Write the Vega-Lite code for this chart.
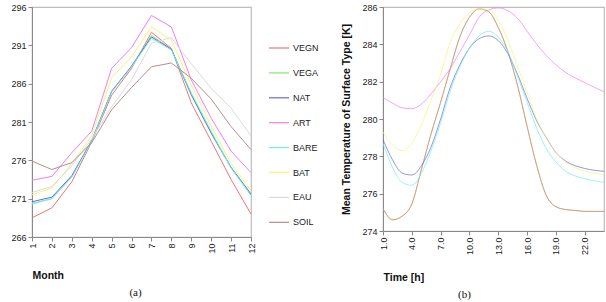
{
  "$schema": "https://vega.github.io/schema/vega-lite/v6.json",
  "autosize": {"type": "pad"},
  "padding": {"left": 10, "top": 2, "right": 3, "bottom": 4},
  "background": "white",
  "config": {
    "font": "Liberation Sans",
    "view": {"stroke": "#bdbdbd", "strokeWidth": 1.2},
    "axis": {
      "grid": false,
      "domainColor": "#8a8a8a",
      "tickColor": "#8a8a8a",
      "tickSize": 4,
      "labelColor": "#222222",
      "labelFontSize": 9,
      "labelPadding": 2,
      "titleColor": "#111111",
      "titleFontSize": 10.5,
      "titleFontWeight": "bold"
    },
    "title": {"font": "Liberation Serif", "fontSize": 11, "fontWeight": "normal", "color": "#111111"}
  },
  "datasets": {
    "monthly": [
      {"m": 1, "VEGN": 268.5, "VEGA": 270.4, "NAT": 270.6, "ART": 273.4, "BARE": 270.3, "BAT": 271.5, "EAU": 271.8, "SOIL": 275.9},
      {"m": 2, "VEGN": 269.8, "VEGA": 271.0, "NAT": 271.2, "ART": 273.9, "BARE": 271.0, "BAT": 272.4, "EAU": 272.6, "SOIL": 274.8},
      {"m": 3, "VEGN": 273.2, "VEGA": 273.9, "NAT": 274.0, "ART": 277.0, "BARE": 273.8, "BAT": 275.6, "EAU": 275.3, "SOIL": 275.7},
      {"m": 4, "VEGN": 278.4, "VEGA": 278.5, "NAT": 278.6, "ART": 279.8, "BARE": 278.5, "BAT": 279.2, "EAU": 278.8, "SOIL": 278.3},
      {"m": 5, "VEGN": 284.5, "VEGA": 285.0, "NAT": 285.0, "ART": 288.0, "BARE": 284.9, "BAT": 286.8, "EAU": 283.0, "SOIL": 282.6},
      {"m": 6, "VEGN": 288.0, "VEGA": 288.2, "NAT": 288.3, "ART": 290.7, "BARE": 288.2, "BAT": 289.5, "EAU": 286.5, "SOIL": 285.5},
      {"m": 7, "VEGN": 292.7, "VEGA": 292.3, "NAT": 292.1, "ART": 294.9, "BARE": 291.9, "BAT": 293.4, "EAU": 291.3, "SOIL": 288.2},
      {"m": 8, "VEGN": 290.6, "VEGA": 290.5, "NAT": 290.5, "ART": 293.4, "BARE": 290.4, "BAT": 291.7, "EAU": 292.0, "SOIL": 288.7},
      {"m": 9, "VEGN": 283.5, "VEGA": 284.5, "NAT": 284.6, "ART": 286.5, "BARE": 284.8, "BAT": 285.8, "EAU": 288.6, "SOIL": 286.7},
      {"m": 10, "VEGN": 278.5, "VEGA": 279.5, "NAT": 279.6, "ART": 281.5, "BARE": 279.8, "BAT": 280.5, "EAU": 285.4, "SOIL": 284.0},
      {"m": 11, "VEGN": 273.5, "VEGA": 275.0, "NAT": 275.1, "ART": 277.2, "BARE": 275.0, "BAT": 275.6, "EAU": 282.8, "SOIL": 280.4},
      {"m": 12, "VEGN": 269.0, "VEGA": 271.5, "NAT": 271.6, "ART": 274.4, "BARE": 271.4, "BAT": 272.0, "EAU": 279.2, "SOIL": 277.4}
    ],
    "hourly": [
      {"h": 1, "VEGN": 275.2, "VEGA": 275.2, "NAT": 278.9, "ART": 281.15, "BARE": 278.7, "BAT": 279.3},
      {"h": 2, "VEGN": 274.6, "VEGA": 274.6, "NAT": 277.8, "ART": 280.85, "BARE": 277.4, "BAT": 278.6},
      {"h": 3, "VEGN": 274.8, "VEGA": 274.8, "NAT": 277.1, "ART": 280.6, "BARE": 276.6, "BAT": 278.3},
      {"h": 4, "VEGN": 275.45, "VEGA": 275.45, "NAT": 277.0, "ART": 280.55, "BARE": 276.45, "BAT": 278.7},
      {"h": 5, "VEGN": 277.3, "VEGA": 277.3, "NAT": 277.5, "ART": 280.8, "BARE": 277.1, "BAT": 279.7},
      {"h": 6, "VEGN": 279.2, "VEGA": 279.2, "NAT": 278.5, "ART": 281.35, "BARE": 278.3, "BAT": 281.0},
      {"h": 7, "VEGN": 280.9, "VEGA": 280.9, "NAT": 280.0, "ART": 282.0, "BARE": 279.8, "BAT": 282.4},
      {"h": 8, "VEGN": 282.7, "VEGA": 282.7, "NAT": 281.7, "ART": 282.7, "BARE": 281.5, "BAT": 284.1},
      {"h": 9, "VEGN": 284.4, "VEGA": 284.4, "NAT": 282.9, "ART": 283.6, "BARE": 282.8, "BAT": 285.1},
      {"h": 10, "VEGN": 285.45, "VEGA": 285.45, "NAT": 283.8, "ART": 284.5, "BARE": 283.8, "BAT": 285.7},
      {"h": 11, "VEGN": 285.9, "VEGA": 285.9, "NAT": 284.3, "ART": 285.45, "BARE": 284.45, "BAT": 285.9},
      {"h": 12, "VEGN": 285.75, "VEGA": 285.75, "NAT": 284.45, "ART": 285.85, "BARE": 284.7, "BAT": 285.85},
      {"h": 13, "VEGN": 284.9, "VEGA": 284.9, "NAT": 284.2, "ART": 285.95, "BARE": 284.4, "BAT": 285.3},
      {"h": 14, "VEGN": 283.6, "VEGA": 283.6, "NAT": 283.5, "ART": 285.8, "BARE": 283.6, "BAT": 284.2},
      {"h": 15, "VEGN": 281.8, "VEGA": 281.8, "NAT": 282.4, "ART": 285.4, "BARE": 282.3, "BAT": 282.8},
      {"h": 16, "VEGN": 279.6, "VEGA": 279.6, "NAT": 281.1, "ART": 284.7, "BARE": 280.9, "BAT": 281.4},
      {"h": 17, "VEGN": 277.5, "VEGA": 277.5, "NAT": 279.9, "ART": 284.0, "BARE": 279.5, "BAT": 280.0},
      {"h": 18, "VEGN": 275.9, "VEGA": 275.9, "NAT": 279.0, "ART": 283.4, "BARE": 278.4, "BAT": 279.0},
      {"h": 19, "VEGN": 275.3, "VEGA": 275.3, "NAT": 278.2, "ART": 282.9, "BARE": 277.7, "BAT": 278.2},
      {"h": 20, "VEGN": 275.15, "VEGA": 275.15, "NAT": 277.75, "ART": 282.5, "BARE": 277.2, "BAT": 277.7},
      {"h": 21, "VEGN": 275.1, "VEGA": 275.1, "NAT": 277.5, "ART": 282.2, "BARE": 276.95, "BAT": 277.4},
      {"h": 22, "VEGN": 275.05, "VEGA": 275.05, "NAT": 277.35, "ART": 281.95, "BARE": 276.8, "BAT": 277.2},
      {"h": 23, "VEGN": 275.05, "VEGA": 275.05, "NAT": 277.25, "ART": 281.7, "BARE": 276.7, "BAT": 277.1},
      {"h": 24, "VEGN": 275.05, "VEGA": 275.05, "NAT": 277.2, "ART": 281.45, "BARE": 276.6, "BAT": 277.0}
    ]
  },
  "hconcat": [
    {
      "width": 219,
      "height": 230,
      "data": {"name": "monthly"},
      "transform": [{"fold": ["VEGN", "VEGA", "NAT", "ART", "BARE", "BAT", "EAU", "SOIL"], "as": ["type", "T"]}],
      "mark": {"type": "line", "strokeWidth": 1, "clip": true},
      "title": {"text": "(a)", "orient": "bottom", "anchor": "middle", "dx": -6, "offset": 6},
      "encoding": {
        "x": {
          "field": "m", "type": "quantitative",
          "scale": {"domain": [1, 12], "nice": false, "zero": false},
          "axis": {
            "values": [1, 2, 3, 4, 5, 6, 7, 8, 9, 10, 11, 12],
            "format": "d",
            "labelAngle": -90,
            "title": "Month",
            "titleX": 0, "titleY": 38, "titleAlign": "left", "titleBaseline": "middle",
            "labelFlush": false, "labelOverlap": false
          }
        },
        "y": {
          "field": "T", "type": "quantitative",
          "scale": {"domain": [266, 296], "nice": false, "zero": false},
          "axis": {"values": [266, 271, 276, 281, 286, 291, 296], "title": null, "labelFlush": false, "labelOverlap": false}
        },
        "color": {
          "field": "type", "type": "nominal",
          "scale": {
            "domain": ["VEGN", "VEGA", "NAT", "ART", "BARE", "BAT", "EAU", "SOIL"],
            "range": ["#f27474", "#7fe87f", "#6a6ad8", "#f27cf2", "#6feeee", "#f4f47a", "#dadada", "#b88d8d"]
          },
          "legend": {
            "title": null,
            "orient": "none",
            "legendX": 236,
            "legendY": 30,
            "symbolType": "stroke",
            "symbolSize": 400,
            "symbolStrokeWidth": 1.2,
            "labelFontSize": 9,
            "labelColor": "#222222",
            "labelOffset": 3,
            "rowPadding": 8.9
          }
        }
      }
    },
    {
      "width": 221,
      "height": 224,
      "data": {"name": "hourly"},
      "transform": [{"fold": ["VEGA", "VEGN", "NAT", "ART", "BARE", "BAT"], "as": ["type", "T"]}],
      "mark": {"type": "line", "strokeWidth": 1, "interpolate": "monotone", "clip": true, "strokeOpacity": 0.7},
      "title": {"text": "(b)", "orient": "bottom", "anchor": "middle", "dx": -29, "offset": 6},
      "encoding": {
        "x": {
          "field": "h", "type": "quantitative",
          "scale": {"domain": [1, 24], "nice": false, "zero": false},
          "axis": {
            "values": [1, 4, 7, 10, 13, 16, 19, 22],
            "format": ".1f",
            "labelAngle": -90,
            "title": "Time [h]",
            "titleX": 0, "titleY": 46, "titleAlign": "left", "titleBaseline": "middle",
            "labelFlush": false, "labelOverlap": false
          }
        },
        "y": {
          "field": "T", "type": "quantitative",
          "scale": {"domain": [274, 286], "nice": false, "zero": false},
          "axis": {
            "values": [274, 276, 278, 280, 282, 284, 286],
            "title": "Mean Temperature of Surface Type [K]",
            "titlePadding": 10,
            "labelFlush": false, "labelOverlap": false
          }
        },
        "color": {
          "field": "type", "type": "nominal",
          "scale": {
            "domain": ["VEGN", "VEGA", "NAT", "ART", "BARE", "BAT", "EAU", "SOIL"],
            "range": ["#f27474", "#7fe87f", "#6a6ad8", "#f27cf2", "#6feeee", "#f4f47a", "#dadada", "#b88d8d"]
          },
          "legend": null
        }
      }
    }
  ],
  "spacing": 132,
  "bounds": "flush",
  "resolve": {"legend": {"color": "independent"}}
}
